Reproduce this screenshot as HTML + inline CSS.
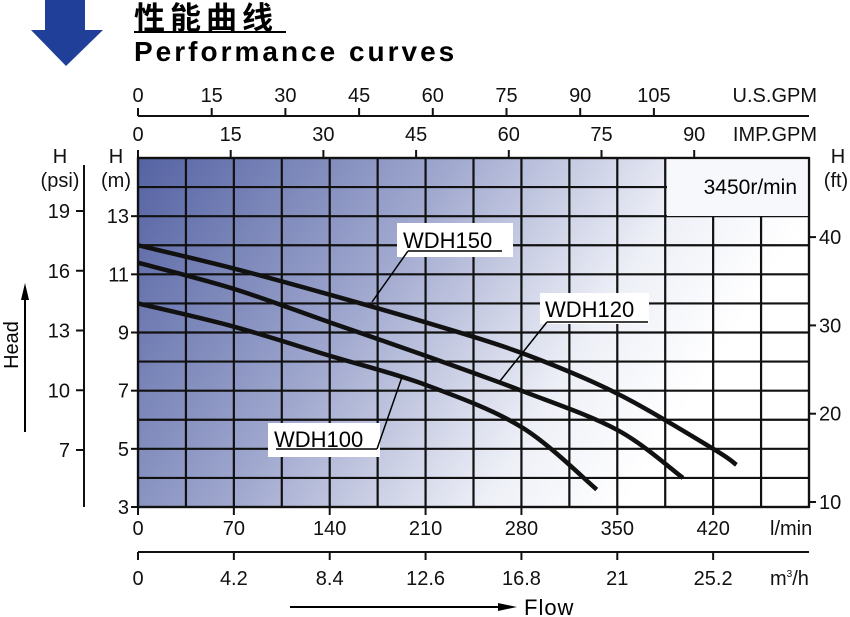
<!DOCTYPE html>
<html><head><meta charset="utf-8"><style>
body{margin:0;background:#fff;}
svg{display:block;font-family:"Liberation Sans","Noto Sans CJK SC",sans-serif;}
</style></head><body>
<svg id="chart" width="850" height="617" viewBox="0 0 850 617">
<defs>
<linearGradient id="bg" gradientUnits="userSpaceOnUse" x1="138" y1="158" x2="640" y2="480">
<stop offset="0" stop-color="#5563a3"/><stop offset="0.45" stop-color="#a1a9cf"/><stop offset="0.8" stop-color="#eef0f7"/><stop offset="1" stop-color="#ffffff"/>
</linearGradient>
</defs>
<polygon points="45,0 85,0 85,30 103,30 66,66 31,30 45,30" fill="#1f3f99"/>
<text x="134" y="29" font-size="31" font-weight="bold" letter-spacing="5">性能曲线</text>
<line x1="134" y1="32" x2="286" y2="32" stroke="#000" stroke-width="2"/>
<text x="134" y="61" font-size="28" font-weight="bold" letter-spacing="3">Performance curves</text>
<rect x="138" y="158" width="671" height="349" fill="url(#bg)"/>
<g id="grid"></g>
<rect x="667" y="159" width="141" height="57" fill="#f7f8fc"/>
<rect x="138" y="158" width="671" height="349" fill="none" stroke="#111" stroke-width="2.2"/>
<text x="797" y="194" font-size="21" text-anchor="end">3450r/min</text>
<g id="curves"></g>
<g id="axes" font-size="20" fill="#111"></g>
<g>
<rect x="397" y="223" width="116" height="34" fill="#fff"/>
<text x="403" y="248" font-size="22">WDH150</text>
<line x1="408" y1="251" x2="502" y2="251" stroke="#000" stroke-width="1.5"/>
<line x1="408" y1="251" x2="372" y2="302" stroke="#000" stroke-width="1.5"/>
</g>
<g>
<rect x="540" y="293" width="109" height="31" fill="#fff"/>
<text x="545" y="317" font-size="22">WDH120</text>
<line x1="547" y1="322" x2="648" y2="322" stroke="#000" stroke-width="1.5"/>
<line x1="547" y1="322" x2="500" y2="381" stroke="#000" stroke-width="1.5"/>
</g>
<g>
<rect x="268" y="423" width="112" height="34" fill="#fff"/>
<text x="274" y="447" font-size="22">WDH100</text>
<line x1="276" y1="449" x2="377" y2="449" stroke="#000" stroke-width="1.5"/>
<line x1="377" y1="449" x2="402" y2="377" stroke="#000" stroke-width="1.5"/>
</g>
<g>
<line x1="25" y1="432" x2="25" y2="298" stroke="#000" stroke-width="2"/>
<polygon points="21,300 29,300 25,283" fill="#000"/>
<text x="18" y="345" font-size="20" text-anchor="middle" transform="rotate(-90 18 345)">Head</text>
</g>
<g>
<line x1="290" y1="607" x2="500" y2="607" stroke="#000" stroke-width="2"/>
<polygon points="498,603 498,611 517,607" fill="#000"/>
<text x="524" y="615" font-size="22" letter-spacing="1">Flow</text>
</g>
</svg>
<script>
const lpmTicks=[0,70,140,210,280,350,420];
const m3hLabels=["0","4.2","8.4","12.6","16.8","21","25.2"];
const usgpmTicks=[0,15,30,45,60,75,90,105];
const impgpmTicks=[0,15,30,45,60,75,90];
const headMTicks=[3,5,7,9,11,13];
const psiTicks=[7,10,13,16,19];
const ftTicks=[10,20,30,40];
const wdh150Flow=[0,70,140,210,280,350,420,437];
const wdh150Head=[12.0,11.2,10.3,9.35,8.3,6.9,5.0,4.45];
const wdh120Flow=[0,70,140,210,280,350,398];
const wdh120Head=[11.4,10.5,9.35,8.2,7.0,5.65,4.0];
const wdh100Flow=[0,70,140,210,280,335];
const wdh100Head=[10.0,9.2,8.2,7.2,5.75,3.6];

const NS="http://www.w3.org/2000/svg";
const X0=138,X1=809,Y0=507,Y1=158;
const xL=v=>X0+v*(X1-X0)/490;
const yM=v=>Y0-(v-3)*(Y0-Y1)/12;
const xUS=v=>X0+v*73.7/15;
const xIMP=v=>X0+v*92.7/15;
const yPsi=v=>450-(v-7)*59.75/3;
const yFt=v=>502-(v-10)*88.3/10;
function mk(tag,attrs,parent){const e=document.createElementNS(NS,tag);for(const k in attrs)e.setAttribute(k,attrs[k]);parent.appendChild(e);return e;}
const grid=document.getElementById('grid');
for(let i=0;i<=14;i++){const x=X0+i*(X1-X0)/14;
 const l=mk('line',{x1:x,y1:Y1,x2:x,y2:Y0,stroke:'#111','stroke-width':2.2},grid);
 
 }
for(let i=0;i<=12;i++){const y=Y0-i*(Y0-Y1)/12;
 const l=mk('line',{x1:X0,y1:y,x2:X1,y2:y,stroke:'#111','stroke-width':2.2},grid);
 
 }
function smooth(xs,ys){const p=xs.map((x,i)=>[xL(x),yM(ys[i])]);let d=`M${p[0][0]},${p[0][1]}`;
 for(let i=0;i<p.length-1;i++){const p0=p[i-1]||p[i],p1=p[i],p2=p[i+1],p3=p[i+2]||p2;
 d+=` C${p1[0]+(p2[0]-p0[0])/6},${p1[1]+(p2[1]-p0[1])/6} ${p2[0]-(p3[0]-p1[0])/6},${p2[1]-(p3[1]-p1[1])/6} ${p2[0]},${p2[1]}`;}return d;}
const cg=document.getElementById('curves');
[[wdh150Flow,wdh150Head,'curve-wdh150'],[wdh120Flow,wdh120Head,'curve-wdh120'],[wdh100Flow,wdh100Head,'curve-wdh100']].forEach(([f,h,n])=>{
 const p=mk('path',{d:smooth(f,h),fill:'none',stroke:'#111','stroke-width':4.5},cg);
 
 });
const ax=document.getElementById('axes');
function ln(x1,y1,x2,y2,w){mk('line',{x1,y1,x2,y2,stroke:'#111','stroke-width':w||2},ax);}
function tx(x,y,s,anchor,name){const t=mk('text',{x,y,'text-anchor':anchor||'middle'},ax);t.textContent=s;
 
 return t;}
ln(X0,116,X1,116);
usgpmTicks.forEach(v=>{ln(xUS(v),108,xUS(v),116);tx(xUS(v),102,v,'middle','us-gpm-tick-label');});
tx(817,102,'U.S.GPM','end','us-gpm-unit');
impgpmTicks.forEach(v=>{ln(xIMP(v),150,xIMP(v),158);tx(xIMP(v),141,v,'middle','imp-gpm-tick-label');});
tx(817,141,'IMP.GPM','end','imp-gpm-unit');
lpmTicks.forEach(v=>{ln(xL(v),507,xL(v),515);tx(xL(v),535,v,'middle','lpm-tick-label');});
tx(770,535,'l/min','start','lpm-unit');
ln(X0,552,X1,552);
lpmTicks.forEach((v,i)=>{ln(xL(v),552,xL(v),560);tx(xL(v),585,m3hLabels[i],'middle','m3h-tick-label');});
const u=tx(770,585,'m','start','m3h-unit');const sup=mk('tspan',{dy:-8,'font-size':10},u);sup.textContent='3';const r=mk('tspan',{dy:8},u);r.textContent='/h';
headMTicks.forEach(v=>{ln(131,yM(v),138,yM(v));tx(129,yM(v)+7,v,'end','head-m-tick-label');});
tx(116,163,'H','middle','head-m-title');tx(116,187,'(m)','middle','head-m-unit');
ln(84,165,84,507);
psiTicks.forEach(v=>{ln(76,yPsi(v),84,yPsi(v));tx(70,yPsi(v)+7,v,'end','head-psi-tick-label');});
tx(60,163,'H','middle','head-psi-title');tx(60,187,'(psi)','middle','head-psi-unit');
ftTicks.forEach(v=>{ln(809,yFt(v),816,yFt(v));tx(819,yFt(v)+7,v,'start','head-ft-tick-label');});
tx(838,163,'H','middle','head-ft-title');tx(836,187,'(ft)','middle','head-ft-unit');
</script>
</body></html>
